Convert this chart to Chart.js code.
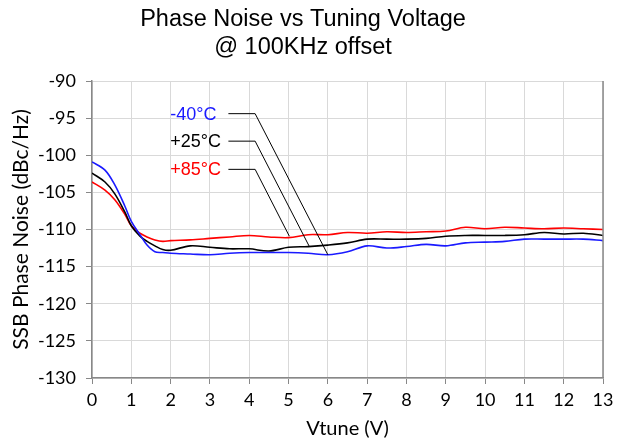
<!DOCTYPE html>
<html>
<head>
<meta charset="utf-8">
<script src="https://cdn.jsdelivr.net/npm/chart.js@4"></script>
<style>
html,body{margin:0;padding:0;background:#fff;}
#wrap{width:623px;height:441px;position:relative;}
</style>
</head>
<body>
<div id="wrap"><canvas id="c" width="623" height="441"></canvas></div>
<script>
const titleLines = ["Phase Noise vs Tuning Voltage", "@ 100KHz offset"];
const xTitle = "Vtune (V)";
const yTitle = "SSB Phase Noise (dBc/Hz)";

const vtune = [0, 0.33, 0.58, 0.84, 1.0, 1.22, 1.4, 1.6, 1.8, 2, 2.5, 3, 3.5, 4, 4.5, 5, 5.5, 6, 6.5, 7, 7.5, 8, 8.5, 9, 9.5, 10, 10.5, 11, 11.5, 12, 12.5, 13];
const noiseM40 = [-100.9, -102.0, -104.0, -106.9, -108.9, -110.7, -112.1, -113.0, -113.1, -113.2, -113.3, -113.4, -113.2, -113.1, -113.1, -113.1, -113.2, -113.4, -113.0, -112.2, -112.5, -112.3, -112.0, -112.2, -111.8, -111.7, -111.6, -111.3, -111.3, -111.3, -111.3, -111.5];
const noiseP25 = [-102.4, -103.6, -105.2, -107.7, -109.5, -110.9, -111.6, -112.2, -112.7, -112.8, -112.2, -112.4, -112.6, -112.6, -112.9, -112.4, -112.3, -112.1, -111.8, -111.3, -111.3, -111.3, -111.2, -110.9, -110.8, -110.8, -110.8, -110.7, -110.4, -110.6, -110.5, -110.8];
const noiseP85 = [-103.6, -104.7, -106.0, -108.0, -109.5, -110.5, -111.0, -111.4, -111.6, -111.5, -111.4, -111.2, -111.0, -110.8, -111.0, -111.1, -110.7, -110.7, -110.4, -110.5, -110.3, -110.4, -110.3, -110.2, -109.7, -109.9, -109.7, -109.8, -109.9, -109.8, -109.9, -110.0];

const seriesNames = ["-40°C", "+25°C", "+85°C"];
const seriesColors = ["#1a1aff", "#000000", "#ff0000"];
// callout labels (data coordinates)
const calloutTextX = [1.99, 1.99, 1.99];
const calloutY = [-94.4, -98.1, -101.9];
const calloutLineStartX = [3.47, 3.47, 3.47];
const calloutBendX = [4.15, 4.15, 4.15];
const calloutEndX = [6.0, 5.53, 5.02];
const calloutEndY = [-113.4, -112.3, -110.9];

const xTicks = [0,1,2,3,4,5,6,7,8,9,10,11,12,13];
const yMin = -130, yMax = -90, yStep = 5;

function pts(ys){ return vtune.map((x,i)=>({x:x, y:ys[i]})); }

const overlay = {
  id: 'overlay',
  afterDatasetsDraw(chart){
    const ctx = chart.ctx, xs = chart.scales.x, ys = chart.scales.y;
    const ca = chart.chartArea;
    ctx.save();
    // right border
    ctx.strokeStyle = '#888888'; ctx.lineWidth = 1.5;
    ctx.beginPath(); ctx.moveTo(ca.right, ca.top); ctx.lineTo(ca.right, ca.bottom); ctx.stroke();
    // callouts
    for (let i = 0; i < seriesNames.length; i++) {
      const y = ys.getPixelForValue(calloutY[i]);
      ctx.strokeStyle = '#000'; ctx.lineWidth = 1;
      ctx.beginPath();
      ctx.moveTo(xs.getPixelForValue(calloutLineStartX[i]), y);
      ctx.lineTo(xs.getPixelForValue(calloutBendX[i]), y);
      ctx.lineTo(xs.getPixelForValue(calloutEndX[i]), ys.getPixelForValue(calloutEndY[i]));
      ctx.stroke();
      ctx.fillStyle = seriesColors[i];
      ctx.font = '18px "Liberation Sans", Arial, sans-serif';
      ctx.textAlign = 'left'; ctx.textBaseline = 'middle';
      ctx.fillText(seriesNames[i], xs.getPixelForValue(calloutTextX[i]), y + 1);
    }
    // title
    ctx.fillStyle = '#000';
    ctx.font = '23.5px "Liberation Sans", Arial, sans-serif';
    ctx.textAlign = 'center'; ctx.textBaseline = 'middle';
    ctx.fillText(titleLines[0], 303, 20);
    ctx.fillText(titleLines[1], 303, 48);
    ctx.restore();
  }
};

const tickFont = { family: 'Lato, "Open Sans", sans-serif', size: 18 };

new Chart(document.getElementById('c'), {
  type: 'line',
  data: {
    datasets: [
      { label: seriesNames[0], data: pts(noiseM40), borderColor: seriesColors[0], borderWidth: 1.6, pointRadius: 0, tension: 0.35, fill: false },
      { label: seriesNames[1], data: pts(noiseP25), borderColor: seriesColors[1], borderWidth: 1.6, pointRadius: 0, tension: 0.35, fill: false },
      { label: seriesNames[2], data: pts(noiseP85), borderColor: seriesColors[2], borderWidth: 1.6, pointRadius: 0, tension: 0.35, fill: false }
    ]
  },
  options: {
    responsive: false,
    animation: false,
    devicePixelRatio: 1,
    layout: { padding: { left: 0, right: 20, top: 81, bottom: 0 } },
    plugins: { legend: { display: false }, title: { display: false }, tooltip: { enabled: false } },
    scales: {
      x: {
        type: 'linear', min: 0, max: 13,
        afterBuildTicks(s){ s.ticks = xTicks.map(v=>({value:v})); },
        afterFit(s){ s.height = 63; },
        ticks: { font: tickFont, color: '#000', padding: 5, maxRotation: 0 },
        grid: { color: '#d9d9d9', lineWidth: 1, tickLength: 6, tickColor: '#888888', drawTicks: true },
        border: { color: '#888888', width: 1.5 },
        title: { display: true, text: xTitle, font: { family: tickFont.family, size: 20 }, color: '#000', padding: { top: 0, bottom: 0 } }
      },
      y: {
        type: 'linear', min: yMin, max: yMax,
        ticks: { stepSize: yStep, font: tickFont, color: '#000', padding: 10 },
        afterFit(s){ s.width = 92; },
        grid: { color: '#d9d9d9', lineWidth: 1, tickLength: 6, tickColor: '#888888' },
        border: { color: '#888888', width: 1.5 },
        title: { display: true, text: yTitle, font: { family: tickFont.family, size: 21 }, color: '#000', padding: { top: 9, bottom: 0 } }
      }
    }
  },
  plugins: [overlay]
});
</script>
</body>
</html>
